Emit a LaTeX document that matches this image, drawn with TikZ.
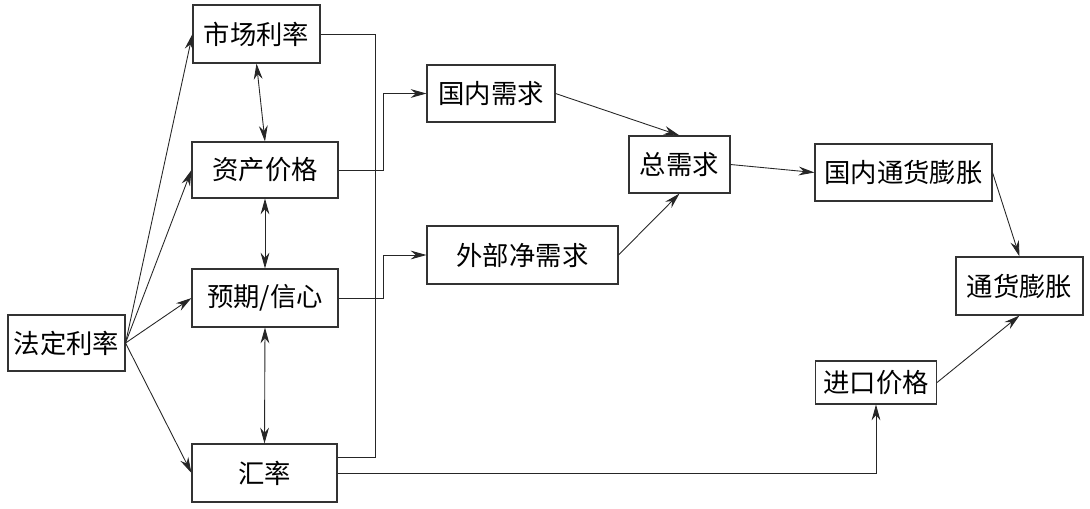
\documentclass[tikz,border=0pt]{standalone}
\usepackage{fontspec}
\setmainfont{Noto Sans CJK SC}
\usepackage{tikz}
\usetikzlibrary{arrows.meta, positioning, calc}

\begin{document}
\begin{tikzpicture}[x=0.02cm, y=-0.02cm,
    box/.style={draw=black!80, line width=0.6pt, inner sep=0pt, font=\fontsize{15}{18}\selectfont},
    arr/.style={-{Stealth[length=9pt, width=5pt]}, line width=0.5pt, draw=black!85},
    dbl/.style={{Stealth[length=9pt, width=5pt]}-{Stealth[length=9pt, width=5pt]}, line width=0.5pt, draw=black!85},
    wire/.style={line width=0.5pt, draw=black!85}]
\useasboundingbox (0,0) rectangle (1090,508);

% left column
\node[box, minimum width=117*0.02cm, minimum height=56*0.02cm] (law) at (66.5,343) {法定利率};
\node[box, minimum width=127*0.02cm, minimum height=58*0.02cm] (mkt) at (256.5,34) {市场利率};
\node[box, minimum width=146*0.02cm, minimum height=56*0.02cm] (asset) at (265,170) {资产价格};
\node[box, minimum width=146*0.02cm, minimum height=58*0.02cm] (expt) at (265,298) {预期/信心};
\node[box, minimum width=145*0.02cm, minimum height=58*0.02cm] (fx) at (264.5,473) {汇率};

% demand side
\node[box, minimum width=128*0.02cm, minimum height=57*0.02cm] (dom) at (491,93.5) {国内需求};
\node[box, minimum width=191*0.02cm, minimum height=58*0.02cm] (ext) at (522.5,255) {外部净需求};
\node[box, minimum width=101*0.02cm, minimum height=57*0.02cm] (agg) at (679.5,164.5) {总需求};

% inflation
\node[box, minimum width=177*0.02cm, minimum height=57*0.02cm] (dinf) at (903.5,172.5) {国内通货膨胀};
\node[box, minimum width=127*0.02cm, minimum height=58*0.02cm] (inf) at (1019.5,286) {通货膨胀};
\node[box, minimum width=121*0.02cm, minimum height=43*0.02cm] (imp) at (876,382.5) {进口价格};

% policy rate to channels
\foreach \n in {mkt, asset, expt, fx} {
    \draw[arr] (law.east) -- (\n.west);
}

% links between channels
\draw[dbl] (mkt.south) -- (asset.north);
\draw[dbl] (asset.south) -- (expt.north);
\draw[dbl] (expt.south) -- (fx.north);

% bus line
\coordinate (bus) at (375,457);
\draw[wire] (mkt.east) -| (bus) -- (fx.east |- bus);

\draw[arr] (asset.east) -- ++(45,0) |- (dom.west);
\draw[arr] (expt.east) -- ++(45,0) |- (ext.west);
\draw[arr] (fx.east) -| (imp.south);

% to inflation
\draw[arr] (dom.east) -- (agg.north);
\draw[arr] (ext.east) -- (agg.south);
\draw[arr] (agg.east) -- (dinf.west);
\draw[arr] (dinf.east) -- (inf.north);
\draw[arr] (imp.east) -- (inf.south);

\end{tikzpicture}
\end{document}
